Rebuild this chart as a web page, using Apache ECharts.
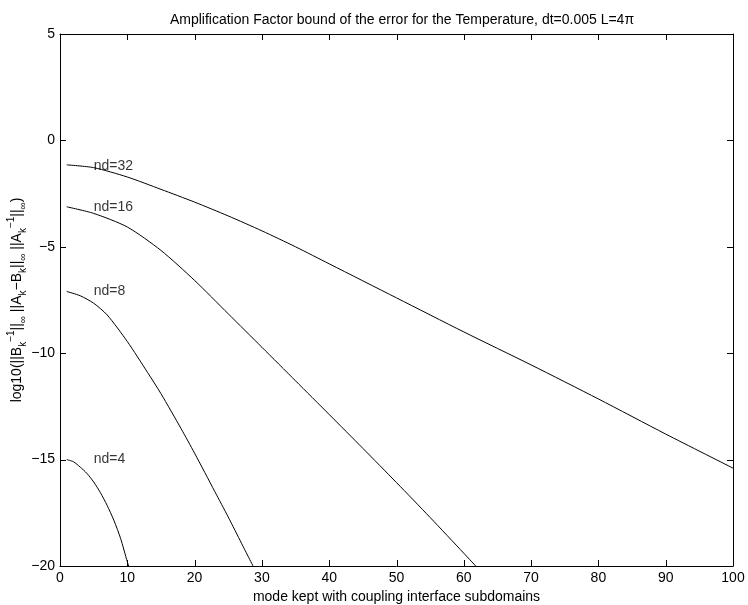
<!DOCTYPE html>
<html>
<head>
<meta charset="utf-8">
<script src="https://cdn.jsdelivr.net/npm/echarts@6/dist/echarts.min.js"></script>
<style>
  html, body { margin: 0; padding: 0; background: #fff; }
  #chart { width: 748px; height: 605px; }
</style>
</head>
<body>
<div id="chart"></div>
<script>
const xTicks = [0, 10, 20, 30, 40, 50, 60, 70, 80, 90, 100]
const yTicks = [-20, -15, -10, -5, 0, 5]

const modes32 = [1, 5, 10, 15, 20, 25, 30, 35, 40, 50, 60, 70, 80, 90, 100]
const err32 = [-1.15, -1.28, -1.72, -2.3, -2.9, -3.55, -4.25, -5.0, -5.8, -7.4, -9.0, -10.55, -12.15, -13.8, -15.4]

const modes16 = [1, 5, 10, 15, 20, 25, 30, 35, 40, 45, 50, 55, 60, 62]
const err16 = [-3.12, -3.43, -4.07, -5.17, -6.58, -8.15, -9.72, -11.3, -12.88, -14.47, -16.08, -17.72, -19.4, -20.08]

const modes8 = [1, 3, 5, 7, 10, 13, 15, 18, 20, 23, 25, 27, 29]
const err8 = [-7.1, -7.3, -7.65, -8.2, -9.45, -10.9, -11.9, -13.55, -14.7, -16.5, -17.7, -18.95, -20.2]

const modes4 = [1, 2, 3, 4, 5, 6, 7, 8, 9, 10, 11]
const err4 = [-15.0, -15.1, -15.35, -15.65, -16.05, -16.55, -17.15, -17.85, -18.7, -19.8, -20.8]

const labelNames = ['nd=32', 'nd=16', 'nd=8', 'nd=4']
const labelX = [5, 5, 5, 5]
const labelY = [-1.2, -3.15, -7.1, -15.0]

const font = 'Liberation Sans, Arial, Helvetica, sans-serif'
const TICK = 6

const pairs = (xs, ys) => xs.map((x, i) => [x, ys[i]])

const curve = (name, xs, ys) => ({
  name,
  type: 'line',
  data: pairs(xs, ys),
  showSymbol: false,
  smooth: 0.25,
  clip: true,
  lineStyle: { color: '#000', width: 1 },
  emphasis: { disabled: true },
})

// inward ticks on all four sides, placed through the axis scales
const tickLine = (x1, y1, x2, y2) => ({
  type: 'line',
  shape: { x1, y1, x2, y2 },
  style: { stroke: '#000', lineWidth: 1 },
})

const xTickMarks = {
  type: 'custom',
  silent: true,
  data: xTicks.map(v => [v, yTicks[0]]),
  renderItem: (params, api) => {
    const cs = params.coordSys
    const x = Math.round(api.coord([api.value(0), yTicks[0]])[0]) + 0.5
    const bottom = cs.y + cs.height
    return {
      type: 'group',
      children: [
        tickLine(x, bottom, x, bottom - TICK),
        tickLine(x, cs.y, x, cs.y + TICK),
      ],
    }
  },
}

const yTickMarks = {
  type: 'custom',
  silent: true,
  data: yTicks.map(v => [xTicks[0], v]),
  renderItem: (params, api) => {
    const cs = params.coordSys
    const y = Math.round(api.coord([xTicks[0], api.value(1)])[1]) + 0.5
    const right = cs.x + cs.width
    return {
      type: 'group',
      children: [
        tickLine(cs.x, y, cs.x + TICK, y),
        tickLine(right, y, right - TICK, y),
      ],
    }
  },
}

const boxLine = () => ({ show: true, onZero: false, lineStyle: { color: '#000', width: 1 } })

const minus = v => String(v).replace('-', '\u2212')

const yName = '{n|log10(||B}{sub|k}{sup|\u22121}{n|||}{sub|\u221e}{n| ||A}{sub|k}{n|\u2212B}{sub|k}{n|||}{sub|\u221e}{n| ||A}{sub|k}{sup|\u22121}{n|||}{sub|\u221e}{n|)}'

const chart = echarts.init(document.getElementById('chart'))
const option = {
  backgroundColor: '#fff',
  animation: false,
  title: {
    text: 'Amplification Factor bound of the error for the Temperature, dt=0.005 L=4\u03c0',
    left: 397,
    top: 8,
    textAlign: 'center',
    textStyle: { fontFamily: font, fontSize: 14, fontWeight: 'normal', color: '#000' },
  },
  grid: { left: 60, right: 15, top: 34, bottom: 39, outerBoundsMode: 'none' },
  xAxis: [
    {
      type: 'value',
      min: xTicks[0],
      max: xTicks[xTicks.length - 1],
      interval: 10,
      position: 'bottom',
      axisLine: boxLine(),
      axisTick: { show: false },
      splitLine: { show: false },
      name: 'mode kept with coupling interface subdomains',
      nameLocation: 'middle',
      nameGap: 24,
      nameMoveOverlap: false,
      nameTextStyle: { fontFamily: font, fontSize: 14, color: '#000' },
      axisLabel: { fontFamily: font, fontSize: 14, color: '#000', margin: 5 },
    },
    {
      type: 'value',
      min: xTicks[0],
      max: xTicks[xTicks.length - 1],
      interval: 10,
      position: 'top',
      axisLine: boxLine(),
      axisTick: { show: false },
      splitLine: { show: false },
      axisLabel: { show: false },
    },
  ],
  yAxis: [
    {
      type: 'value',
      min: yTicks[0],
      max: yTicks[yTicks.length - 1],
      interval: 5,
      position: 'left',
      axisLine: boxLine(),
      axisTick: { show: false },
      splitLine: { show: false },
      name: yName,
      nameLocation: 'middle',
      nameRotate: 90,
      nameGap: 32,
      nameMoveOverlap: false,
      nameTextStyle: {
        fontFamily: font,
        color: '#000',
        rich: {
          n: { fontFamily: font, fontSize: 14, lineHeight: 22, color: '#000' },
          sub: { fontFamily: font, fontSize: 10, lineHeight: 12, verticalAlign: 'bottom', color: '#000' },
          sup: { fontFamily: font, fontSize: 10, lineHeight: 12, verticalAlign: 'top', color: '#000' },
        },
      },
      axisLabel: { fontFamily: font, fontSize: 14, color: '#000', margin: 5, formatter: minus },
    },
    {
      type: 'value',
      min: yTicks[0],
      max: yTicks[yTicks.length - 1],
      interval: 5,
      position: 'right',
      axisLine: boxLine(),
      axisTick: { show: false },
      splitLine: { show: false },
      axisLabel: { show: false },
    },
  ],
  series: [
    xTickMarks,
    yTickMarks,
    curve('nd=32', modes32, err32),
    curve('nd=16', modes16, err16),
    curve('nd=8', modes8, err8),
    curve('nd=4', modes4, err4),
    {
      type: 'scatter',
      symbolSize: 0,
      data: labelNames.map((n, i) => [labelX[i], labelY[i], n]),
      label: {
        show: true,
        position: 'right',
        distance: 0,
        formatter: p => p.value[2],
        fontFamily: font,
        fontSize: 14,
        color: '#000',
      },
      emphasis: { disabled: true },
      silent: true,
    },
  ],
}
chart.setOption(option)
</script>
</body>
</html>
